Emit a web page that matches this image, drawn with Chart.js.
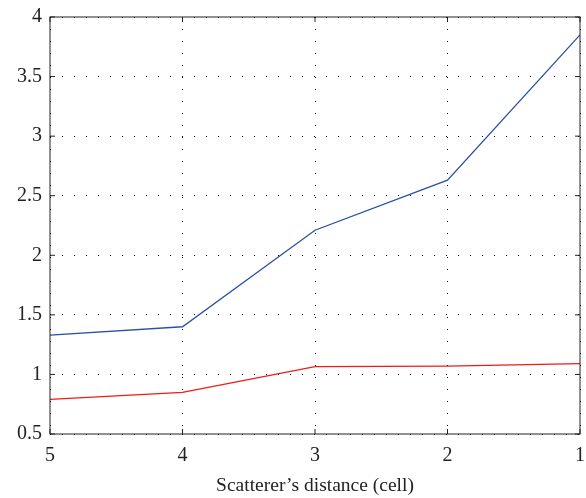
<!DOCTYPE html>
<html>
<head>
<meta charset="utf-8">
<script src="https://cdn.jsdelivr.net/npm/chart.js@4/dist/chart.umd.min.js"></script>
<style>
  html, body { margin: 0; padding: 0; background: #fff; }
  #wrap { width: 586px; height: 498px; }
</style>
</head>
<body>
<div id="wrap"><canvas id="chart" width="586" height="498"></canvas></div>
<script>
// distances (cells), plotted right to left
const distances = [5, 4, 3, 2, 1];
const blueSeries = [1.33, 1.40, 2.21, 2.63, 3.85];
const redSeries = [0.79, 0.85, 1.065, 1.07, 1.09];
const yTicks = [0.5, 1, 1.5, 2, 2.5, 3, 3.5, 4];

const FONT = '"Liberation Serif", "DejaVu Serif", serif';

// box round the plot plus inward tick marks, like the original figure
const frame = {
  id: 'frame',
  afterDraw(chart) {
    const { ctx, chartArea: a, scales } = chart;
    ctx.save();
    ctx.strokeStyle = '#222';
    ctx.lineWidth = 1;
    ctx.strokeRect(a.left, a.top, a.right - a.left, a.bottom - a.top);
    ctx.beginPath();
    distances.forEach(d => {
      const x = scales.x.getPixelForValue(d);
      ctx.moveTo(x, a.bottom); ctx.lineTo(x, a.bottom - 5);
      ctx.moveTo(x, a.top); ctx.lineTo(x, a.top + 5);
    });
    yTicks.forEach(v => {
      const y = scales.y.getPixelForValue(v);
      ctx.moveTo(a.left, y); ctx.lineTo(a.left + 5, y);
      ctx.moveTo(a.right, y); ctx.lineTo(a.right - 5, y);
    });
    ctx.stroke();
    ctx.restore();
  }
};

new Chart(document.getElementById('chart'), {
  type: 'line',
  data: {
    datasets: [
      { data: distances.map((d, i) => ({ x: d, y: blueSeries[i] })), borderColor: '#2b4ea6', borderWidth: 1.3, pointRadius: 0, tension: 0 },
      { data: distances.map((d, i) => ({ x: d, y: redSeries[i] })), borderColor: '#f01a1a', borderWidth: 1.3, pointRadius: 0, tension: 0 }
    ]
  },
  options: {
    responsive: false,
    animation: false,
    layout: { padding: { top: 17, right: 6, left: 0, bottom: 0 } },
    plugins: { legend: { display: false }, tooltip: { enabled: false } },
    scales: {
      x: {
        type: 'linear', reverse: true, min: 1, max: 5,
        afterFit(s) { s.height = 64; s.paddingLeft = 0; s.paddingRight = 0; },
        ticks: { stepSize: 1, color: '#222', font: { family: FONT, size: 20 }, padding: 10 },
        grid: { color: '#000', drawTicks: false, lineWidth: 1 },
        border: { display: false, dash: [1, 11] },
        title: { display: true, text: 'Scatterer\u2019s distance (cell)', color: '#222', font: { family: FONT, size: 19.5 }, padding: { top: 6, bottom: 0 } }
      },
      y: {
        min: 0.5, max: 4,
        afterFit(s) { s.width = 50; s.paddingTop = 0; s.paddingBottom = 0; },
        afterBuildTicks(s) { s.ticks = yTicks.map(v => ({ value: v })); },
        ticks: { color: '#222', font: { family: FONT, size: 20 }, padding: 8, callback: v => String(v) },
        grid: { color: '#000', drawTicks: false, lineWidth: 1 },
        border: { display: false, dash: [1, 11] }
      }
    }
  },
  plugins: [frame]
});
</script>
</body>
</html>
